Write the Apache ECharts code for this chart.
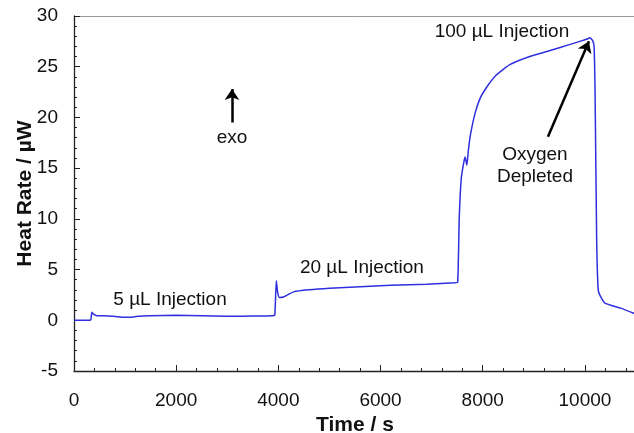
<!DOCTYPE html>
<html>
<head>
    <meta charset="utf-8">
    <title>Heat Rate</title>
    <script type="text/javascript" src="https://cdn.jsdelivr.net/npm/echarts@6/dist/echarts.min.js"></script>
    <style>
        body { margin: 0; background: #fff; }
    </style>
</head>
<body>
<div id="main" style="width: 634px;height:433px;"></div>
<script type="text/javascript">

    // time (s) and heat rate (µW)
    var timeS = [0, 300, 330, 350, 380, 450, 600, 800, 1000, 1100, 1250, 1500, 2000, 2500, 3000, 3500, 3890, 3930,
        3960, 3985, 4020, 4100, 4300, 4600, 5000, 5600, 6200, 6900, 7450, 7510, 7540, 7580, 7630, 7655, 7690, 7720,
        7760, 7850, 7950, 8080, 8270, 8530, 8920, 9320, 9710, 10030, 10100, 10150, 10180, 10200, 10230, 10260, 10300,
        10390, 10700, 11000];
    var heatRate = [0, 0, 0.05, 0.8, 0.6, 0.45, 0.45, 0.38, 0.3, 0.3, 0.4, 0.45, 0.5, 0.45, 0.4, 0.42, 0.45, 0.5,
        3.9, 2.8, 2.25, 2.3, 2.8, 3.0, 3.15, 3.3, 3.45, 3.55, 3.7, 3.75, 10, 14, 15.6, 16.1, 15.3, 16.8,
        18.3, 20.4, 21.9, 23.0, 24.2, 25.2, 26.0, 26.6, 27.2, 27.7, 27.85, 27.6, 27.0, 22, 8, 3.0, 2.4,
        1.7, 1.2, 0.6];

    // annotation texts and where they sit (data units)
    var noteTexts = ['5 µL Injection', '20 µL Injection', '100 µL Injection', 'exo', 'Oxygen\nDepleted'];
    var noteAt = [[1879, 2.0], [5636, 5.15], [8376, 28.4], [3092, 18.0], [9022, 15.2]];
    var arrows = [[[3092, 19.5], [3092, 22.8]], [[9276, 18.1], [10079, 27.5]]];

    var pts = [];
    for (var i = 0; i < timeS.length; i++) {
        pts.push([timeS[i], heatRate[i]]);
    }

    var font = '"Liberation Sans", Arial, sans-serif';
    var myChart = echarts.init(document.getElementById('main'));

    var option = {
        animation: false,
        grid: { left: 74, right: -2, top: 16, bottom: 62, outerBoundsMode: 'none' },
        xAxis: [{
            type: 'value',
            min: 0, max: 11000, interval: 2000,
            name: 'Time / s',
            nameLocation: 'middle',
            nameGap: 44,
            nameMoveOverlap: false,
            nameTextStyle: { fontFamily: font, fontSize: 21, fontWeight: 'bold', color: '#111' },
            axisLine: { onZero: false, lineStyle: { color: '#222', width: 1.3 } },
            axisTick: { inside: true, length: 6, lineStyle: { color: '#222' } },
            minorTick: { show: true, splitNumber: 5, length: 3, lineStyle: { color: '#222' } },
            axisLabel: {
                margin: 20, fontFamily: font, fontSize: 19, color: '#111', showMaxLabel: false,
                formatter: function (v) { return String(v); }
            },
            splitLine: { show: false }
        }, {
            type: 'value', position: 'top',
            min: 0, max: 11000,
            axisLine: { show: true, onZero: false, lineStyle: { color: '#999', width: 1 } },
            axisTick: { show: false }, axisLabel: { show: false }, splitLine: { show: false }
        }],
        yAxis: {
            type: 'value',
            min: -5, max: 30, interval: 5,
            name: 'Heat Rate / µW',
            nameLocation: 'middle',
            nameGap: 38,
            nameMoveOverlap: false,
            nameTextStyle: { fontFamily: font, fontSize: 21, fontWeight: 'bold', color: '#111' },
            axisLine: { show: true, onZero: false, lineStyle: { color: '#222', width: 1.3 } },
            axisTick: { inside: true, length: 6, lineStyle: { color: '#222' } },
            minorTick: { show: true, splitNumber: 5, length: 3, lineStyle: { color: '#222' } },
            axisLabel: { margin: 16, fontFamily: font, fontSize: 19, color: '#111' },
            splitLine: { show: false }
        },
        series: [{
            type: 'line',
            data: pts,
            showSymbol: false,
            smooth: 0.15,
            lineStyle: { color: '#2f2fe0', width: 1.5 },
            markLine: {
                silent: true,
                symbol: ['none', 'arrow'],
                symbolSize: 11,
                label: { show: false },
                lineStyle: { color: '#000', width: 2.5, type: 'solid' },
                data: arrows.map(function (a) {
                    return [{ coord: a[0] }, { coord: a[1] }];
                })
            }
        }]
    };
    myChart.setOption(option);

    // place the text notes at their data positions
    var notes = noteTexts.map(function (t, k) {
        var p = myChart.convertToPixel({ xAxisIndex: 0, yAxisIndex: 0 }, noteAt[k]);
        return {
            type: 'text', x: p[0], y: p[1],
            style: {
                text: t, align: 'center', verticalAlign: 'middle',
                font: '19px ' + font, fill: '#111', lineHeight: 22
            }
        };
    });
    myChart.setOption({ graphic: notes });

</script>
</body>
</html>
